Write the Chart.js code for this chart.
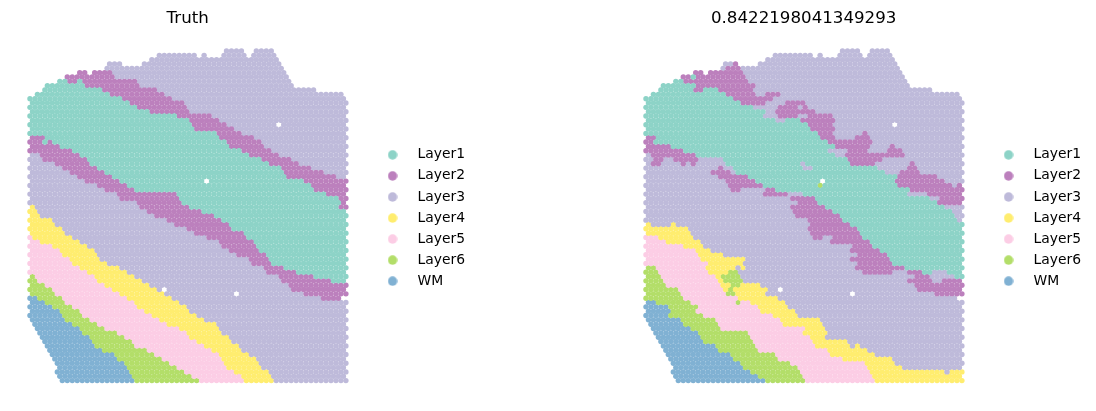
<!DOCTYPE html>
<html>
<head>
<meta charset="utf-8">
<script src="https://cdn.jsdelivr.net/npm/chart.js@4"></script>
<style>
  html, body { margin: 0; background: #fff; }
  .panel { position: absolute; top: 0; width: 480px; height: 411px; }
</style>
</head>
<body>
<div class="panel" style="left:0"><canvas id="truth"></canvas></div>
<div class="panel" style="left:616px"><canvas id="pred"></canvas></div>
<script>
const layerNames = ['Layer1', 'Layer2', 'Layer3', 'Layer4', 'Layer5', 'Layer6', 'WM'];
const layerColors = ['#8dd3c7', '#bc80bd', '#bebada', '#ffed6f', '#fccde5', '#b3de69', '#80b1d3'];
const panelTitles = ['Truth', '0.8422198041349293'];

// spots that are missing from the array: [col, row]
const missingSpots = [[100, 17], [71, 30], [54, 55], [83, 56]];

// one string per array row, "layer:firstCol-lastCol"
const truthRows = [
  '3:79-85 3:91-97',
  '3:52-66 3:70-70 3:78-86 3:90-98',
  '3:49-99',
  '3:32-36 3:45-100',
  '3:31-101',
  '2:20-22 2:26-33 3:34-102',
  '2:15-34 3:35-103',
  '1:12-14 2:16-18 1:20-20 2:22-42 3:43-104',
  '1:7-21 2:23-44 3:45-106',
  '1:5-29 2:30-50 3:51-114',
  '1:3-32 2:33-53 3:54-125',
  '1:0-37 2:38-56 3:57-126',
  '1:1-40 2:41-62 3:63-127',
  '1:0-43 2:44-62 3:63-126',
  '1:1-48 2:49-64 3:65-127',
  '1:0-58 2:59-73 3:74-126',
  '1:1-63 2:64-75 3:76-127',
  '1:0-64 2:65-79 3:80-126',
  '1:1-66 2:67-82 3:83-127',
  '1:0-74 2:75-85 3:86-126',
  '2:1-5 1:6-76 2:77-89 3:90-127',
  '2:0-5 1:6-7 2:8-9 1:10-78 2:79-92 3:93-126',
  '2:1-12 1:13-80 2:81-93 3:94-127',
  '2:0-16 1:17-84 2:85-96 3:97-126',
  '3:1-3 2:5-20 1:21-87 2:88-99 3:100-127',
  '3:0-4 2:5-22 1:23-92 2:93-104 3:105-126',
  '3:1-9 2:10-24 1:25-95 2:96-108 3:109-127',
  '3:0-12 2:13-26 1:27-100 2:101-113 3:114-126',
  '3:1-16 2:17-29 1:30-102 2:103-117 3:118-127',
  '3:0-18 2:19-32 1:33-103 2:104-123 3:124-126',
  '3:1-21 2:22-35 1:36-110 2:111-127',
  '3:0-26 2:27-38 1:39-112 2:113-126',
  '3:1-29 2:30-41 1:42-114 2:115-127',
  '3:0-34 2:35-58 1:59-119 2:120-126',
  '3:1-36 2:37-60 1:61-123 2:124-127',
  '3:0-42 2:43-61 1:62-124 2:125-126',
  '4:1-1 3:3-44 2:45-64 1:65-124 2:125-127',
  '4:0-2 3:4-46 2:47-69 1:70-126',
  '4:1-4 3:5-49 2:50-73 1:74-127',
  '4:0-8 3:9-55 2:56-76 1:77-126',
  '4:1-10 3:11-57 2:58-79 1:80-127',
  '4:0-13 3:14-62 2:63-81 1:82-126',
  '4:1-14 3:15-65 2:66-85 1:86-127',
  '5:0-0 4:2-16 3:17-71 2:72-87 1:88-126',
  '5:1-3 4:5-19 3:20-75 2:76-89 1:90-127',
  '5:0-8 4:9-22 3:23-77 2:78-91 1:92-126',
  '5:1-12 4:13-25 3:26-79 2:80-92 1:93-127',
  '5:0-13 4:14-26 3:27-83 2:84-95 1:96-126',
  '5:1-15 4:16-28 3:29-87 2:88-96 1:97-127',
  '5:0-16 4:17-31 3:32-89 2:90-97 1:98-126',
  '5:1-20 4:21-35 3:36-93 2:94-101 1:102-127',
  '5:0-23 4:24-38 3:39-95 2:96-107 1:108-126',
  '6:1-1 5:3-25 4:26-41 3:42-100 2:101-113 1:114-127',
  '6:0-3 5:4-27 4:28-44 3:45-100 2:101-121 1:122-126',
  '6:1-6 5:7-29 4:30-47 3:48-104 2:105-127',
  '6:0-8 5:9-33 4:34-50 3:51-105 2:106-126',
  '6:1-10 5:11-35 4:36-53 3:54-109 2:110-127',
  '7:0-3 6:4-12 5:13-39 4:40-56 3:57-117 2:118-124',
  '7:1-6 6:7-14 5:15-41 4:42-59 3:60-127',
  '7:0-9 6:10-17 5:18-43 4:44-62 3:63-126',
  '7:1-11 6:12-19 5:20-46 4:47-64 3:65-127',
  '7:0-13 6:14-21 5:22-49 4:50-67 3:68-126',
  '7:1-14 6:15-24 5:25-51 4:52-70 3:71-127',
  '7:2-17 6:18-26 5:27-55 4:56-74 3:75-126',
  '7:3-19 6:20-30 5:31-59 4:60-76 3:77-127',
  '7:4-21 6:22-34 5:35-63 4:64-77 3:78-126',
  '7:5-23 6:24-37 5:38-64 4:65-79 3:80-127',
  '7:6-24 6:25-40 5:41-67 4:68-81 3:82-126',
  '7:7-26 6:27-42 5:43-69 4:70-83 3:84-127',
  '7:8-28 6:29-47 5:48-72 4:73-85 3:86-126',
  '7:8-33 6:34-50 5:51-75 4:76-87 3:88-127',
  '7:9-35 6:36-53 5:54-77 4:78-90 3:91-126',
  '7:11-38 6:39-55 5:56-78 4:79-91 3:92-127',
  '7:11-39 6:40-58 5:59-79 4:80-93 3:94-126',
  '7:10-40 6:41-61 5:62-81 4:82-95 3:96-127',
  '7:12-40 6:41-64 5:65-84 4:85-96 3:97-126',
  '7:13-41 6:42-67 5:68-85 4:86-97 3:98-127'
];

const predRows = [
  '3:79-85 3:91-97',
  '3:52-66 3:70-70 3:78-86 3:90-98',
  '3:49-99',
  '3:32-34 2:36-36 3:45-100',
  '3:31-31 2:33-37 3:39-101',
  '2:19-22 2:26-39 3:40-102',
  '2:15-17 1:19-19 2:21-40 3:41-103',
  '1:12-14 2:16-41 3:42-104',
  '1:7-19 2:21-43 3:45-106',
  '1:5-19 2:20-23 1:24-29 2:30-43 3:44-114',
  '1:3-32 2:33-43 3:45-47 2:49-53 3:55-125',
  '1:0-35 2:36-51 3:52-126',
  '1:1-38 2:39-47 3:49-55 2:57-63 3:65-127',
  '1:0-43 3:44-52 2:54-60 3:62-62 2:64-64 3:66-126',
  '1:1-47 3:49-51 2:53-67 3:69-127',
  '1:0-47 3:48-52 2:53-60 3:61-64 2:65-74 3:75-126',
  '1:1-51 3:53-55 1:57-61 2:63-75 3:77-127',
  '1:0-64 2:65-74 3:75-126',
  '1:1-66 2:67-75 3:77-127',
  '1:0-68 2:69-74 3:76-86 2:88-88 3:90-126',
  '2:1-3 1:5-69 2:71-75 3:77-83 2:85-89 3:91-127',
  '2:0-3 1:4-72 2:73-90 3:91-126',
  '2:1-9 1:11-75 2:77-89 3:91-97 2:99-99 3:101-127',
  '2:0-14 1:16-72 3:74-80 2:82-88 3:90-96 2:98-102 3:104-126',
  '3:1-1 2:3-19 1:21-75 3:77-79 2:81-103 3:105-127',
  '3:0-2 2:4-6 3:8-10 2:12-20 3:22-30 1:32-80 2:82-94 3:96-126',
  '3:1-1 2:3-5 3:7-13 2:15-15 3:17-17 2:19-19 3:21-31 1:33-61 3:63-63 1:65-81 2:83-91 3:93-105 2:107-107 3:109-127',
  '3:0-28 2:30-30 3:32-34 1:36-62 3:64-66 1:68-93 3:94-104 2:106-108 3:110-126',
  '3:1-25 2:27-33 3:35-35 1:37-95 3:97-101 2:103-109 3:111-127',
  '3:0-28 2:30-40 1:42-100 2:102-112 2:114-116 3:118-126',
  '3:1-31 2:33-43 1:45-99 2:101-119 3:121-127',
  '3:0-32 2:34-46 1:48-68 6:70-70 1:72-100 2:102-122 3:124-124 2:126-126',
  '3:1-33 2:35-37 3:39-47 2:49-51 1:53-105 2:107-127',
  '3:0-46 2:48-56 3:58-62 1:64-104 3:106-112 2:114-126',
  '3:1-57 2:59-67 1:69-113 3:115-117 2:119-127',
  '3:0-60 2:62-68 1:70-116 2:118-126',
  '3:1-57 2:59-71 1:73-119 3:121-127',
  '3:0-58 2:60-74 1:76-122 3:124-126',
  '3:1-59 2:61-77 1:79-123 3:125-127',
  '3:0-65 2:66-78 1:80-125 3:126-126',
  '4:1-1 3:3-9 4:11-11 3:13-66 2:67-81 1:83-127',
  '4:0-16 3:18-64 2:66-84 1:86-126',
  '4:1-17 3:19-66 2:67-85 1:87-127',
  '5:0-4 4:6-18 3:20-66 2:68-70 3:72-74 2:76-86 1:88-126',
  '5:1-7 4:9-21 3:23-73 2:75-89 1:91-127',
  '5:0-15 4:16-22 3:24-82 2:84-90 1:92-126',
  '5:1-19 4:21-26 3:27-82 2:83-93 1:95-127',
  '5:0-20 4:21-30 3:32-84 2:86-96 1:98-126',
  '5:1-22 4:23-40 3:41-82 2:83-97 1:99-127',
  '5:0-24 4:25-39 3:40-84 2:86-98 1:100-126',
  '6:1-3 5:5-23 4:25-35 3:37-37 4:39-39 3:41-83 2:85-103 1:105-127',
  '6:0-4 5:6-24 4:26-32 6:34-36 3:38-86 2:88-98 3:100-104 2:106-110 1:112-114 3:116-120 1:122-126',
  '6:1-5 5:7-27 4:29-29 6:31-37 3:39-107 2:109-113 3:115-123 1:125-127',
  '6:0-6 5:8-28 4:30-30 6:32-38 3:40-104 2:106-114 3:116-118 2:120-126',
  '6:1-7 5:9-29 4:31-33 6:35-37 4:39-45 3:47-107 2:109-127',
  '6:0-12 5:14-30 4:32-32 6:34-34 4:36-46 4:48-48 3:50-108 2:110-126',
  '6:1-13 5:15-31 6:33-35 4:37-47 3:49-115 2:117-127',
  '6:0-14 5:16-36 4:38-52 3:54-124',
  '7:1-3 6:5-17 5:19-35 6:37-37 5:39-41 4:43-55 3:57-127',
  '7:0-8 6:9-20 5:21-44 4:45-56 3:58-126',
  '7:1-10 6:11-20 5:21-45 4:46-59 3:61-127',
  '7:0-9 6:10-23 5:24-50 4:52-60 3:62-126',
  '7:1-13 6:14-27 5:28-53 4:54-69 3:71-127',
  '7:2-14 6:15-29 5:30-54 4:56-70 3:72-126',
  '7:3-17 6:18-30 5:31-63 4:65-71 3:73-127',
  '7:4-21 6:22-41 5:42-63 4:64-72 3:74-126',
  '7:5-21 6:22-42 5:43-65 4:66-71 3:73-127',
  '7:6-23 6:24-42 5:43-66 4:68-80 3:82-126',
  '7:7-27 6:28-44 5:45-67 4:69-81 3:83-83 4:85-85 3:87-127',
  '7:8-29 6:30-45 5:46-72 4:73-88 3:90-126',
  '7:8-33 6:34-52 5:53-74 4:75-91 3:93-127',
  '7:9-35 6:36-53 5:54-79 4:80-98 3:100-126',
  '7:11-37 6:38-58 5:59-87 4:88-99 3:100-127',
  '7:11-39 6:40-61 5:62-88 4:89-102 3:103-126',
  '7:10-42 6:43-62 5:63-90 4:91-119 3:121-121 4:123-127',
  '7:12-45 6:46-63 5:64-91 4:92-126',
  '7:13-47 6:48-63 5:65-92 4:93-127'
];

function buildDatasets(rows) {
  const points = layerNames.map(() => []);
  rows.forEach((row, r) => {
    row.split(' ').forEach(run => {
      const [layer, range] = run.split(':');
      const [first, last] = range.split('-').map(Number);
      for (let c = first; c <= last; c++) {
        // hex layout: only every second column exists in a row
        if ((c + r) % 2 === 0) continue;
        if (missingSpots.some(s => s[0] === c && s[1] === r)) continue;
        points[layer - 1].push({ x: c, y: r });
      }
    });
  });
  return layerNames.map((name, i) => ({
    label: name,
    data: points[i],
    showLine: false,
    pointRadius: 2.7,
    pointBorderWidth: 0,
    backgroundColor: layerColors[i],
    borderColor: layerColors[i]
  }));
}

function legendDot(color) {
  const dot = document.createElement('canvas');
  dot.width = 10;
  dot.height = 10;
  const ctx = dot.getContext('2d');
  ctx.fillStyle = color;
  ctx.beginPath();
  ctx.arc(5, 5, 4.7, 0, Math.PI * 2);
  ctx.fill();
  return dot;
}

function drawPanel(id, title, rows) {
  new Chart(document.getElementById(id), {
    type: 'scatter',
    data: { datasets: buildDatasets(rows) },
    options: {
      responsive: false,
      animation: false,
      layout: { padding: { left: 8, right: 5, bottom: 5 } },
      scales: {
        x: { display: false, min: -8.83, max: 135.63 },
        y: { display: false, reverse: true, min: -4.84, max: 81.86 }
      },
      plugins: {
        tooltip: { enabled: false },
        title: {
          display: true,
          text: title,
          fullSize: false,
          color: '#000',
          font: { family: 'DejaVu Sans', size: 16.67, weight: 'normal' },
          padding: { top: 9, bottom: 1 }
        },
        legend: {
          position: 'right',
          fullSize: false,
          labels: {
            usePointStyle: true,
            pointStyleWidth: 36,
            boxHeight: 10,
            padding: 7.17,
            color: '#000',
            font: { family: 'DejaVu Sans', size: 13.89 },
            generateLabels(chart) {
              return Chart.defaults.plugins.legend.labels.generateLabels(chart).map((item, i) => {
                item.pointStyle = legendDot(layerColors[i]);
                return item;
              });
            }
          }
        }
      }
    }
  });
}

document.querySelectorAll('canvas').forEach(c => { c.width = 480; c.height = 411; });
drawPanel('truth', panelTitles[0], truthRows);
drawPanel('pred', panelTitles[1], predRows);
</script>
</body>
</html>
